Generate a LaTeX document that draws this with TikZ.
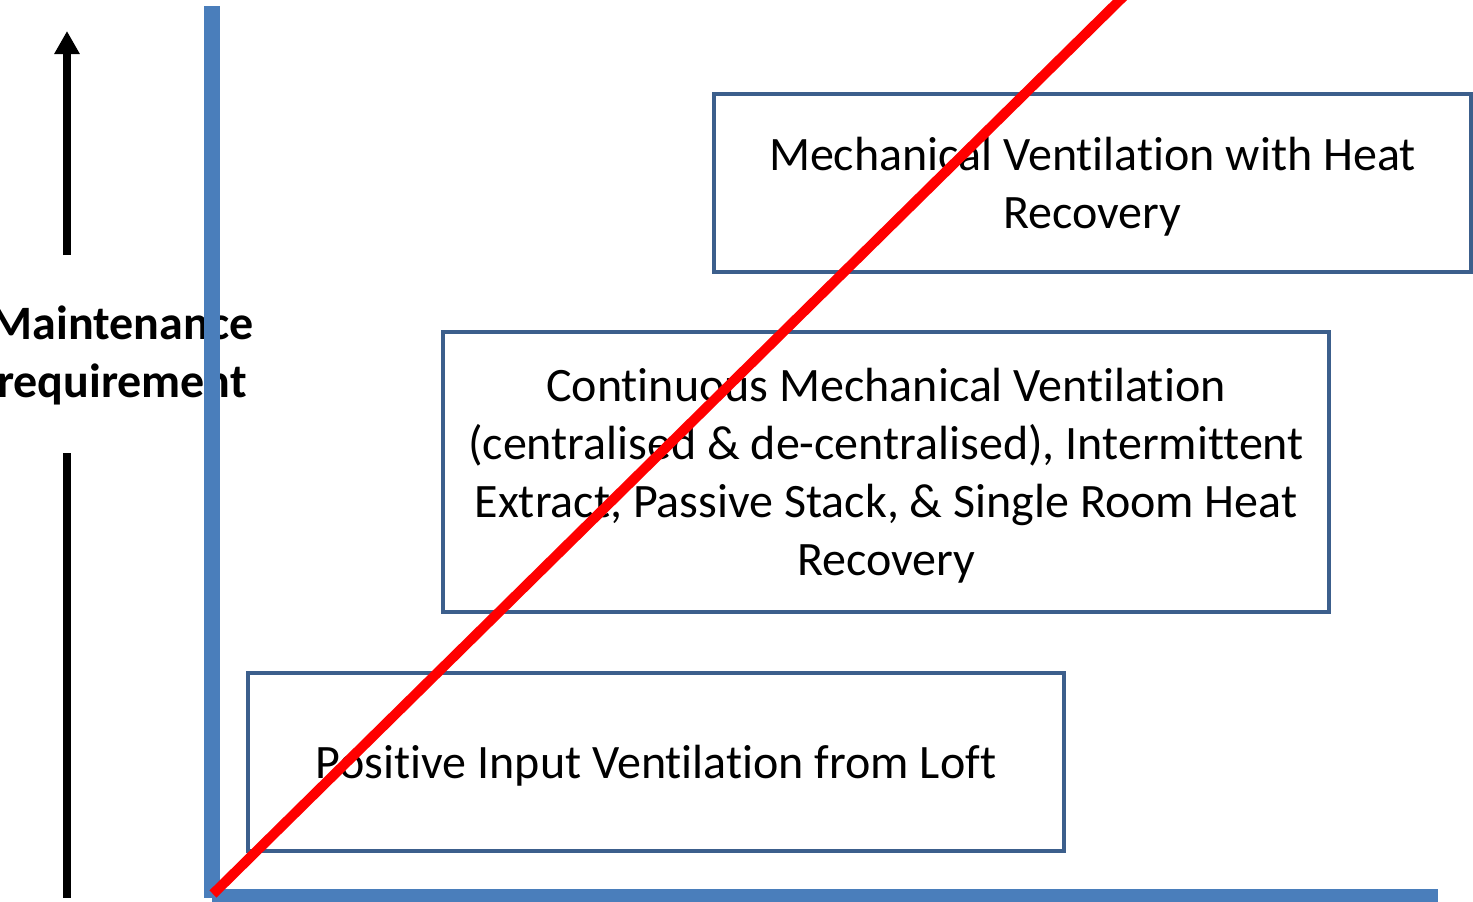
\documentclass[tikz,border=0pt]{standalone}
\usepackage{fontspec}
\setmainfont{Carlito}[RawFeature=-liga, RawFeature=-clig, RawFeature=-calt]
\usetikzlibrary{arrows.meta}
\definecolor{axisblue}{HTML}{4A7EBB}
\definecolor{boxblue}{HTML}{3C5F8C}
\definecolor{redline}{HTML}{FF0000}
\newcommand\boxlines[1]{\raisebox{-5pt}[\height][\depth]{\begin{tabular}{@{}c@{}}#1\end{tabular}}}
\begin{document}
\begin{tikzpicture}[x=1pt,y=-1pt,
  lbl/.style={inner sep=0pt, align=center, font=\fontsize{48}{58}\selectfont\bfseries},
  boxtext/.style={draw=boxblue, line width=4pt, fill=white, inner sep=0pt, font=\fontsize{48}{58}\selectfont},
  axisline/.style={draw=axisblue},
  blackline/.style={draw=black, line width=8pt},
  redl/.style={draw=redline, line width=10pt}]
\useasboundingbox (0,0) rectangle (1473,902);
% label
\node[lbl] (label) at (122,355) {Maintenance\\requirement};
% black arrow and line
\coordinate (arrowbase) at (67,255);
\coordinate (arrowtop) at (67,31);
\draw[blackline, -{Triangle[width=24pt,length=23pt]}] (arrowbase) -- (arrowtop);
\coordinate (lowtop) at (67,453);
\coordinate (lowbot) at (67,898);
\draw[blackline] (lowtop) -- (lowbot);
% axes
\coordinate (ytop) at (212,6);
\coordinate (ybot) at (212,898);
\coordinate (xstart) at (212,895.5);
\coordinate (xend) at (1438,895.5);
\draw[axisline, line width=16pt] (ytop) -- (ybot);
\draw[axisline, line width=13pt] (xstart) -- (xend);
% boxes
\node[boxtext, minimum width=757pt, minimum height=178pt] (mvhr) at (1092.5,183)
  {\boxlines{Mechanical Ventilation with Heat\\Recovery}};
\node[boxtext, minimum width=886pt, minimum height=280pt] (cmv) at (886,472)
  {\boxlines{Continuous Mechanical Ventilation\\(centralised \& de-centralised), Intermittent\\Extract, Passive Stack, \& Single Room Heat\\Recovery}};
\node[boxtext, minimum width=816pt, minimum height=178pt] (piv) at (656,762)
  {\boxlines{Positive Input Ventilation from Loft}};
% red line
\coordinate (redstart) at (213,894);
\coordinate (redend) at (1126,-6);
\draw[redl] (redstart) -- (redend);
\end{tikzpicture}
\end{document}
